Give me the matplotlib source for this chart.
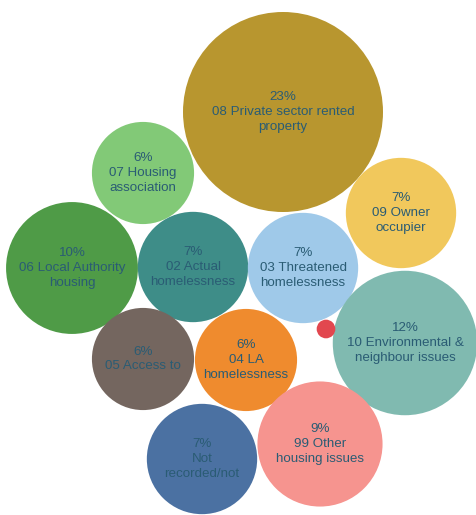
import numpy as np
import matplotlib.pyplot as plt
from matplotlib.patches import Circle

# share of enquiries by housing category (percent)
labels = [
    '08 Private sector rented\nproperty',
    '07 Housing\nassociation',
    '09 Owner\noccupier',
    '06 Local Authority\nhousing',
    '02 Actual\nhomelessness',
    '03 Threatened\nhomelessness',
    '10 Environmental &\nneighbour issues',
    '05 Access to',
    '04 LA\nhomelessness',
    '99 Other\nhousing issues',
    'Not\nrecorded/not',
    '',
]
values = [23, 6, 7, 10, 7, 7, 12, 6, 6, 9, 7, 0.2]

# packed bubble centres (layout units)
pos_x = [283, 143, 401, 72, 193, 303, 405, 143, 246, 320, 202, 326]
pos_y = [112, 173, 213, 268, 267, 268, 343, 359, 360, 444, 459, 329]

colors = ['#B8962F', '#82C977', '#F1C85C', '#4F9B47', '#3E8D88', '#9FC9E9',
          '#80BAB0', '#74665F', '#EF8B2E', '#F6948F', '#4B71A2', '#E2474F']

text_col = '#2A5C74'
scale = 100 / np.sqrt(23)  # radius per sqrt(percent)

fig = plt.figure(figsize=(4.76, 5.15), dpi=100)
ax = fig.add_axes([0, 0, 1, 1])
ax.set_xlim(0, 476)
ax.set_ylim(515, 0)
ax.set_aspect('equal')
ax.axis('off')

for lab, v, x, y, c in zip(labels, values, pos_x, pos_y, colors):
    ax.add_patch(Circle((x, y), scale * np.sqrt(v), facecolor=c, edgecolor='none'))
    if lab:
        ax.text(x, y, '{:g}%\n{}'.format(v, lab), ha='center', va='center',
                fontsize=9.6, family='Liberation Sans', color=text_col,
                linespacing=1.32)

plt.savefig('out.png', dpi=100, facecolor='white')
